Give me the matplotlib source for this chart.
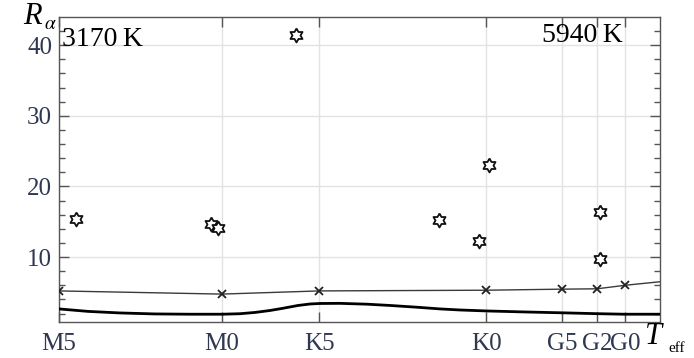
import matplotlib.pyplot as plt
import numpy as np

# Effective temperature axis (K) with spectral class marks
t_min, t_max = 3170, 5940
class_names = ['M5', 'M0', 'K5', 'K0', 'G5', 'G2', 'G0']
class_temps = [3170, 3920, 4370, 5140, 5490, 5650, 5780]

# Observed stars
star_t = [3250, 3870, 3905, 4262, 4921, 5106, 5152, 5664, 5664]
star_r = [15.4, 14.7, 14.1, 41.4, 15.2, 12.2, 23.1, 16.4, 9.7]

# Thin model curve (markers at class temperatures, last point at edge)
thin_t = [3170, 3920, 4370, 5140, 5490, 5650, 5780, 5940]
thin_r = [5.2, 4.75, 5.2, 5.3, 5.45, 5.5, 6.0, 6.5]

# Thick model curve
thick_t = [3170, 3304, 3451, 3612, 3774, 3921, 4004, 4073, 4143, 4202,
           4272, 4327, 4373, 4465, 4590, 4696, 4820, 4926, 5018, 5143,
           5318, 5488, 5645, 5774, 5940]
thick_r = [2.65, 2.3, 2.08, 1.94, 1.9, 1.9, 1.97, 2.15, 2.43, 2.74,
           3.14, 3.35, 3.42, 3.44, 3.32, 3.14, 2.89, 2.65, 2.5, 2.36,
           2.22, 2.1, 1.98, 1.9, 1.9]

plt.rcParams['font.family'] = ['Liberation Serif', 'DejaVu Serif']
plt.rcParams['mathtext.fontset'] = 'stix'

fig = plt.figure(figsize=(6.94, 3.58), dpi=100)
ax = fig.add_axes([0.085, 0.1006, 0.866, 0.852])

# hexagram outline marker
ang_out = np.deg2rad(90 + np.arange(6) * 60)
ang_in = ang_out + np.deg2rad(30)
r_in = 1 / np.sqrt(3)
verts = []
for a, b in zip(ang_out, ang_in):
    verts.append((np.cos(a), np.sin(a)))
    verts.append((r_in * np.cos(b), r_in * np.sin(b)))
verts.append(verts[0])

ax.plot(thick_t, thick_r, color='black', lw=2.0, zorder=3,
        solid_joinstyle='round')
ax.plot(thin_t, thin_r, color='#3a3a3a', lw=1.0, zorder=3)
ax.plot(thin_t[:-1], thin_r[:-1], ls='none', marker='x', ms=6, mew=1.3,
        color='#222222', zorder=4)
ax.plot(star_t, star_r, ls='none', marker=verts, ms=10, mew=1.3,
        mfc='white', mec='#111111', zorder=5)

ax.set_xlim(t_min, t_max)
ax.set_ylim(0.8, 44)
ax.set_xticks(class_temps)
ax.set_xticklabels(class_names)
ax.set_yticks([10, 20, 30, 40])
ax.set_yticks(np.arange(2, 44, 2), minor=True)

ax.grid(True, which='major', color='#e2e2e2', lw=1.0)
ax.set_axisbelow(True)
for s in ax.spines.values():
    s.set_color('#555555')
    s.set_linewidth(1.0)

ax.tick_params(which='both', direction='in', top=True, right=True,
               color='#555555', labelcolor='#2e3850', labelsize=18)
ax.tick_params(which='major', length=7, width=1.0)
ax.tick_params(which='minor', length=4, width=1.0)
ax.tick_params(axis='x', pad=8)
ax.tick_params(axis='y', pad=5)

ax.text(0.005, 0.967, '3170\u2009K', transform=ax.transAxes, fontsize=20,
        ha='left', va='top')
ax.text(0.938, 0.98, '5940\u2009K', transform=ax.transAxes, fontsize=20,
        ha='right', va='top')

# axis names
fig.text(0.033, 0.955, 'R', fontsize=22, style='italic', ha='left',
         va='center')
fig.text(0.064, 0.932, r'$\alpha$', fontsize=14, ha='left', va='center')
fig.text(0.929, 0.06, 'T', fontsize=22, style='italic', ha='left',
         va='center')
fig.text(0.963, 0.008, 'eff', fontsize=11, ha='left', va='bottom')

fig.savefig('out.png', dpi=100)
